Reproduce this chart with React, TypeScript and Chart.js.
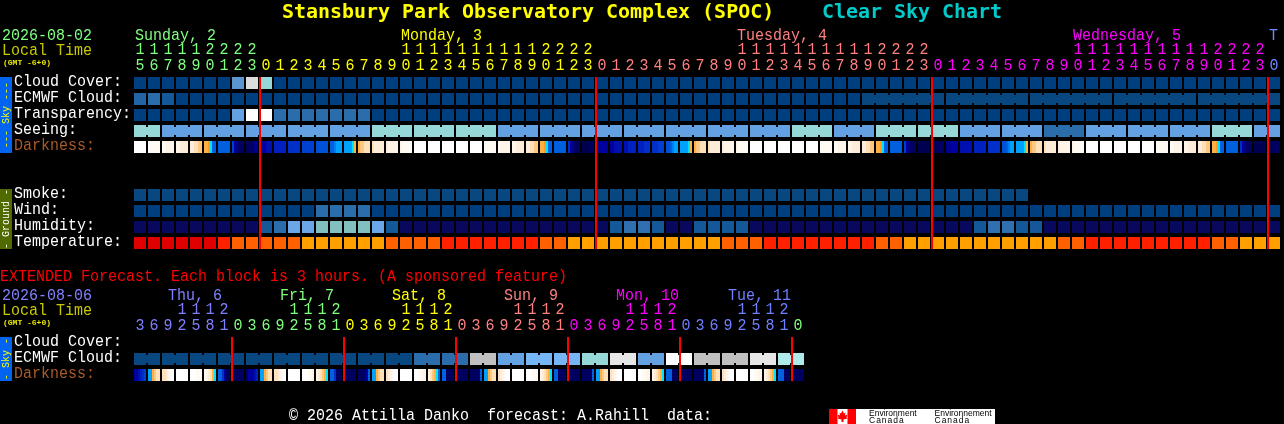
import React, { useEffect, useRef } from "react";
import { Chart, registerables } from "chart.js";

Chart.register(...registerables);

// ---------- hour labels ----------
const hourlyHours = [
  15, 16, 17, 18, 19, 20, 21, 22, 23,
  0, 1, 2, 3, 4, 5, 6, 7, 8, 9, 10, 11, 12, 13, 14, 15, 16, 17, 18, 19, 20, 21, 22, 23,
  0, 1, 2, 3, 4, 5, 6, 7, 8, 9, 10, 11, 12, 13, 14, 15, 16, 17, 18, 19, 20, 21, 22, 23,
  0, 1, 2, 3, 4, 5, 6, 7, 8, 9, 10, 11, 12, 13, 14, 15, 16, 17, 18, 19, 20, 21, 22, 23,
  0,
];
const extendedHours = [
  3, 6, 9, 12, 15, 18, 21,
  0, 3, 6, 9, 12, 15, 18, 21,
  0, 3, 6, 9, 12, 15, 18, 21,
  0, 3, 6, 9, 12, 15, 18, 21,
  0, 3, 6, 9, 12, 15, 18, 21,
  0, 3, 6, 9, 12, 15, 18, 21,
  0,
];
const dayLabels = ["Sunday, 2", "Monday, 3", "Tuesday, 4", "Wednesday, 5", "T"];
const extendedDayLabels = ["Thu, 6", "Fri, 7", "Sat, 8", "Sun, 9", "Mon, 10", "Tue, 11"];
const rowLabelsSky = ["Cloud Cover:", "ECMWF Cloud:", "Transparency:", "Seeing:", "Darkness:"];
const rowLabelsGround = ["Smoke:", "Wind:", "Humidity:", "Temperature:"];
const rowLabelsExtended = ["Cloud Cover:", "ECMWF Cloud:", "Darkness:"];

// ---------- colour levels ----------
const skyPalette = [
  "#003f7f", "#08477f", "#14589a", "#2264a4", "#2b6cab", "#5a96d2", "#63a1e2",
  "#76b6f5", "#96d7d7", "#aeeaea", "#c0c0c0", "#dcdcdc", "#e6e6e6", "#ffffff",
  "#08085e", "#82c0c0", "#6aa6e8", "#3070b0",
];
const tempPalette = ["#e00000", "#ff2000", "#ff6000", "#ffa000"];
const darkPalette: Record<string, string> = {
  W: "#ffffff", w: "#fffaf4", v: "#fff4e8", c: "#ffecd8", d: "#ffe0b8", e: "#ffc880",
  o: "#ffb040", O: "#ff9a20", C: "#00e0ff", A: "#00a0ff", B: "#0080f0", D: "#0060e0",
  E: "#0050d8", F: "#0040d0", G: "#0030c8", H: "#0020c0", I: "#0010b0", J: "#0000a0",
  K: "#000090", L: "#000060", M: "#000050",
};

// ---------- hourly series (level per hour) ----------
const cloudCover = [
  0, 0, 0, 0, 0, 0, 0, 5, 11, 8,
  0, 0, 0, 0, 0, 0, 0, 0, 0, 0,
  0, 0, 0, 0, 0, 0, 0, 0, 0, 0,
  0, 0, 0, 0, 0, 0, 0, 0, 0, 0,
  0, 0, 0, 0, 0, 0, 0, 0, 0, 0,
  0, 0, 0, 0, 0, 0, 0, 0, 0, 0,
  0, 0, 0, 0, 0, 0, 0, 0, 0, 0,
  0, 0, 0, 0, 0, 0, 0, 0, 0, 0,
  0, 0,
];
const ecmwfCloud = [
  3, 4, 2, 0, 0, 0, 0, 0, 0, 0,
  0, 0, 0, 0, 0, 0, 0, 0, 0, 0,
  0, 0, 0, 0, 0, 0, 0, 0, 0, 0,
  0, 0, 0, 0, 0, 0, 0, 0, 0, 0,
  0, 0, 0, 0, 0, 0, 0, 0, 0, 0,
  0, 0, 1, 1, 1, 1, 1, 1, 1, 1,
  1, 1, 1, 1, 1, 1, 1, 1, 1, 1,
  1, 1, 1, 1, 1, 1, 1, 1, 1, 1,
  1, 1,
];
const ecmwfGroups = [
  1, 1, 1, 1, 1, 1, 1, 1, 1, 1, 1, 1, 1, 1, 1, 1, 1, 1, 1, 1, 1, 1, 1, 1, 1, 1,
  1, 1, 1, 1, 1, 1, 1, 1, 1, 1, 1, 1, 1, 1, 1, 1, 1, 1, 1, 1, 1, 1, 1, 1, 1, 1,
  6, 6, 6, 6, 6,
];
const transparency = [
  0, 0, 0, 0, 0, 0, 0, 6, 13, 13,
  4, 4, 4, 4, 4, 4, 4, 0, 0, 0,
  0, 0, 0, 0, 0, 0, 0, 0, 0, 0,
  0, 0, 0, 0, 0, 0, 0, 0, 0, 0,
  0, 0, 0, 0, 0, 0, 0, 0, 0, 0,
  0, 0, 0, 0, 0, 0, 0, 0, 0, 0,
  0, 0, 0, 0, 0, 0, 0, 0, 0, 0,
  0, 0, 0, 0, 0, 0, 0, 0, 0, 0,
  0, 0,
];
const seeing = [
  8, 8, 6, 6, 6, 6, 6, 6, 6, 6,
  6, 6, 6, 6, 6, 6, 6, 8, 8, 8,
  8, 8, 8, 8, 8, 8, 6, 6, 6, 6,
  6, 6, 6, 6, 6, 6, 6, 6, 6, 6,
  6, 6, 6, 6, 6, 6, 6, 8, 8, 8,
  6, 6, 6, 8, 8, 8, 8, 8, 8, 6,
  6, 6, 6, 6, 6, 4, 4, 4, 6, 6,
  6, 6, 6, 6, 6, 6, 6, 8, 8, 8,
  6, 6,
];
const seeingGroups = [2, 3, 3, 3, 3, 3, 3, 3, 3, 3, 3, 3, 3, 3, 3, 3, 3, 3, 3, 3, 3, 3, 3, 3, 3, 3, 3, 2];
const darknessHourly = [
  "WWWWWW", "Wwwwww", "wwvvvv", "vvcccc", "ccddee", "ooOCDD", "DDDDDD", "FJKLLL", "LLLLKK", "JJJIII",
  "HHHHHH", "GGGGGG", "FFFFFF", "EEEEEE", "DDBAAA", "AAAACo", "oeeddd", "dccccc", "cvvvvv", "vwwwww",
  "WWWWWW", "WWWWWW", "WWWWWW", "WWWWWW", "WWWWWW", "wwwwww", "wvvvvv", "vvcccc", "ccddee", "ooOCDD",
  "DDDDDD", "GJKLLL", "MMMMLL", "KKJJJJ", "JJIIII", "IIHHHH", "HHHGGG", "GGGFFF", "EEDBAA", "AAAACo",
  "oeeddd", "dccccc", "cvvvvv", "vwwwww", "WWWWWW", "WWWWWW", "WWWWWW", "WWWWWW", "WWWWWW", "wwwwww",
  "wwvvvv", "vvcccc", "ccddee", "ooOCDD", "DDDDDD", "FJKLLL", "MMMMMM", "MMLLLL", "KKKJJJ", "IIIIII",
  "HHHHHH", "GGGGGG", "EEDBAA", "AAAACo", "oeeddd", "dccccc", "cvvvvv", "vwwwww", "WWWWWW", "WWWWWW",
  "WWWWWW", "WWWWWW", "WWWWWW", "wwwwww", "wwvvvv", "vvcccc", "ccddee", "ooOCDD", "DDDDDD", "GJKLLL",
  "MMMMMM", "MMLLLL",
];
const smoke = [
  1, 1, 1, 1, 1, 1, 1, 1, 1, 1,
  1, 1, 1, 1, 1, 1, 1, 1, 1, 1,
  1, 1, 1, 1, 1, 1, 1, 1, 1, 1,
  1, 1, 1, 1, 1, 1, 1, 1, 1, 1,
  1, 1, 1, 1, 1, 1, 1, 1, 1, 1,
  1, 1, 1, 1, 1, 1, 1, 1, 1, 1,
  1, 1, 1, 1,
];
const wind = [
  0, 0, 0, 0, 0, 0, 0, 0, 0, 0,
  0, 0, 0, 4, 4, 4, 4, 0, 0, 0,
  0, 0, 0, 0, 0, 0, 0, 0, 0, 0,
  0, 0, 0, 0, 0, 0, 0, 0, 0, 0,
  0, 0, 0, 0, 0, 0, 0, 0, 0, 0,
  0, 0, 0, 0, 0, 0, 0, 0, 0, 0,
  0, 0, 0, 0, 0, 0, 0, 0, 0, 0,
  0, 0, 0, 0, 0, 0, 0, 0, 0, 0,
  0, 0,
];
const humidity = [
  14, 14, 14, 14, 14, 14, 14, 14, 14, 2,
  4, 16, 16, 15, 15, 15, 15, 16, 2, 14,
  14, 14, 14, 14, 14, 14, 14, 14, 14, 14,
  14, 14, 14, 14, 2, 17, 17, 2, 14, 14,
  2, 2, 2, 2, 14, 14, 14, 14, 14, 14,
  14, 14, 14, 14, 14, 14, 14, 14, 14, 14,
  2, 17, 17, 2, 2, 14, 14, 14, 14, 14,
  14, 14, 14, 14, 14, 14, 14, 14, 14, 14,
  14, 14,
];
const temperature = [
  0, 0, 0, 0, 0, 0, 1, 2, 2, 2,
  2, 2, 3, 3, 3, 3, 3, 3, 2, 2,
  2, 2, 1, 1, 1, 1, 1, 1, 1, 2,
  2, 3, 3, 3, 3, 3, 3, 3, 3, 3,
  3, 3, 2, 2, 2, 1, 1, 1, 1, 1,
  1, 1, 1, 2, 2, 3, 3, 3, 3, 3,
  3, 3, 3, 3, 3, 3, 2, 2, 1, 1,
  1, 1, 1, 1, 1, 1, 1, 2, 2, 3,
  3, 3,
];

// ---------- extended series (level per 3-hour block) ----------
const extendedEcmwf = [
  1, 1, 1, 1, 1, 1, 1, 1, 1, 1,
  1, 1, 1, 1, 1, 1, 1, 1, 1, 1,
  4, 4, 4, 4, 10, 10, 6, 6, 7, 7,
  7, 7, 8, 8, 12, 12, 6, 6, 13, 13,
  10, 10, 10, 10, 12, 12, 9, 9,
];
const extendedGroups = [2, 2, 2, 2, 2, 2, 2, 2, 2, 2, 2, 2, 2, 2, 2, 2, 2, 2, 2, 2, 2, 2, 2, 2];
const extendedDarkness = [
  "JJIHGF", "AAoedd", "ddcvwW", "WWWWWW", "WWWwww", "wvcdoC", "DDGJLL", "LLLLLL",
  "LJJJIH", "AAoedd", "ddcvwW", "WWWWWW", "WWWwwv", "vcdeoC", "DDGLLL", "LLLLLL",
  "LLLLJD", "AAoedd", "dcvwWW", "WWWWWW", "WWwwvv", "vdeoCD", "DDLLLL", "LLLLLL",
  "LLLLLD", "AAoedd", "dcvwWW", "WWWWWW", "WWWwww", "vcdeoC", "DDLLLL", "LLLLLL",
  "LLLLLD", "AAoedd", "dcvwWW", "WWWWWW", "WWwwvv", "vcdeoC", "DDDLLL", "LLLLLL",
  "LLLLLD", "AAoedd", "dcvwWW", "WWWWWW", "WWwwvv", "vcdeoC", "DDDLLL", "LLLLLL",
];
const midnightColumns = [9, 33, 57, 81];
const extendedMidnightColumns = [7, 15, 23, 31, 39, 47];

// ---------- layout helpers (scale units: 1 column, 1 row) ----------
const PX_X = 14;
const PX_Y = 16;
const CELL_H = 12 / PX_Y;
const ROW = { cloud: 0, ecmwf: 1, transp: 2, seeing: 3, dark: 4, smoke: 7, wind: 8, humid: 9, temp: 10, xCloud: 16.25, xEcmwf: 17.25, xDark: 18.25 };
const FONT = '"Liberation Mono", "DejaVu Sans Mono", monospace';
const TITLE_FONT = '"DejaVu Sans Mono", monospace';

const base = { grouped: false, inflateAmount: 0, borderWidth: 0 };

const cells = (label: string, values: number[], row: number, palette: string[]) => ({
  ...base,
  label,
  barThickness: 12,
  data: values.map((_, i) => ({ x: i, y: [row, row + CELL_H] })),
  backgroundColor: values.map((v) => palette[v]),
});

const bridges = (label: string, values: number[], groups: number[], row: number, palette: string[]) => {
  const data: any[] = [];
  const colors: string[] = [];
  let col = 0;
  groups.forEach((size) => {
    for (let k = 0; k < size - 1; k++) {
      data.push({ x: col + k + 0.5, y: [row + 2 / PX_Y, row + 10 / PX_Y] });
      colors.push(palette[values[col + k]]);
    }
    col += size;
  });
  return { ...base, label, barThickness: 2, data, backgroundColor: colors };
};

const slices = (label: string, columns: string[], row: number) => {
  const data: any[] = [];
  const colors: string[] = [];
  columns.forEach((s, i) => {
    s.split("").forEach((ch, k) => {
      data.push({ x: i + (k - 2.5) * (2 / PX_X), y: [row, row + CELL_H] });
      colors.push(darkPalette[ch]);
    });
  });
  return { ...base, label, barThickness: 2, data, backgroundColor: colors };
};

const redLines = (label: string, columns: number[], from: number, to: number) => ({
  ...base,
  label,
  barThickness: 2,
  data: columns.map((c) => ({ x: c - 6 / PX_X, y: [from, to] })),
  backgroundColor: "#ff0000",
});

// Text is stretched a little in height so the thin mono face reaches the reference's glyph height.
const put = (ctx: any, text: string, x: number, y: number, color: string, font = `15px ${FONT}`, stretch = 1.1) => {
  ctx.save();
  ctx.translate(x, y);
  ctx.scale(1, stretch);
  ctx.font = font;
  ctx.fillStyle = color;
  ctx.fillText(text, 0, 0);
  ctx.restore();
};

const rotated = (ctx: any, text: string, x: number, y: number, color: string) => {
  ctx.save();
  ctx.translate(x, y);
  ctx.rotate(-Math.PI / 2);
  ctx.font = `10px ${FONT}`;
  ctx.fillStyle = color;
  ctx.textAlign = "center";
  ctx.textBaseline = "middle";
  ctx.fillText(text, 0, 0);
  ctx.restore();
};

const hourColor = (c: number) => (c < 9 ? "#80ff80" : c < 33 ? "#ffff00" : c < 57 ? "#ff8080" : c < 81 ? "#ff00ff" : "#6a8cff");
const extColor = (c: number) => (c < 7 ? "#8080ff" : c < 15 ? "#80ff80" : c < 23 ? "#ffff00" : c < 31 ? "#ff8080" : c < 39 ? "#ff00ff" : c < 47 ? "#7080ff" : "#80ff80");

const textPlugin = {
  id: "cscText",
  beforeDatasetsDraw(chart: any) {
    const { ctx } = chart;
    const y = chart.scales.y;
    ctx.save();
    ctx.fillStyle = "#0064f0";
    ctx.fillRect(0, y.getPixelForValue(ROW.cloud), 12, 76);
    ctx.fillRect(0, y.getPixelForValue(ROW.xCloud), 12, 44);
    ctx.fillStyle = "#506a00";
    ctx.fillRect(0, y.getPixelForValue(ROW.smoke), 12, 60);
    ctx.restore();
  },
  afterDatasetsDraw(chart: any) {
    const { ctx } = chart;
    const xs = chart.scales.x;
    const ys = chart.scales.y;
    ctx.save();
    ctx.textBaseline = "alphabetic";
    ctx.textAlign = "left";

    // title
    const titleFont = `bold 19.95px ${TITLE_FONT}`;
    put(ctx, "Stansbury Park Observatory Complex (SPOC)", 282, 18, "#ffff00", titleFont, 1);
    put(ctx, "Clear Sky Chart", 822, 18, "#00cccc", titleFont, 1);

    // hourly header
    put(ctx, "2026-08-02", 2, 40, "#80ff80");
    put(ctx, "Local Time", 2, 55, "#c8c800");
    put(ctx, "(GMT -6+0)", 3, 65, "#e8e800", `bold 8px ${FONT}`, 1);
    const dayCols = [0, 19, 43, 67, 81];
    const dayColors = ["#80ff80", "#ffff00", "#ff8080", "#ff00ff", "#6a8cff"];
    dayLabels.forEach((d, i) => put(ctx, d, xs.getPixelForValue(dayCols[i] - 6 / PX_X) + 1, 40, dayColors[i]));
    ctx.textAlign = "center";
    hourlyHours.forEach((h, c) => {
      const x = xs.getPixelForValue(c);
      if (h >= 10) put(ctx, String(Math.floor(h / 10)), x, 54, hourColor(c));
      put(ctx, String(h % 10), x, 70, hourColor(c));
    });
    ctx.textAlign = "left";

    // row labels
    const skyRows = [ROW.cloud, ROW.ecmwf, ROW.transp, ROW.seeing, ROW.dark];
    rowLabelsSky.forEach((t, i) => put(ctx, t, 14, ys.getPixelForValue(skyRows[i]) + 9, i === 4 ? "#a85a2a" : "#ffffff"));
    const groundRows = [ROW.smoke, ROW.wind, ROW.humid, ROW.temp];
    rowLabelsGround.forEach((t, i) => put(ctx, t, 14, ys.getPixelForValue(groundRows[i]) + 9, "#ffffff"));
    const extRows = [ROW.xCloud, ROW.xEcmwf, ROW.xDark];
    rowLabelsExtended.forEach((t, i) => put(ctx, t, 14, ys.getPixelForValue(extRows[i]) + 9, i === 2 ? "#a85a2a" : "#ffffff"));

    rotated(ctx, "--- Sky ---", 6, 115, "#ffff00");
    rotated(ctx, "- Ground -", 6, 219, "#ffffff");
    rotated(ctx, "- Sky -", 6, 359, "#ffff00");

    // extended
    put(ctx, "EXTENDED Forecast. Each block is 3 hours. (A sponsored feature)", 0, 281, "#ff0000");
    put(ctx, "2026-08-06", 2, 300, "#8080ff");
    put(ctx, "Local Time", 2, 315, "#c8c800");
    put(ctx, "(GMT -6+0)", 3, 325, "#e8e800", `bold 8px ${FONT}`, 1);
    const extCols = [2, 10, 18, 26, 34, 42];
    const extDayColors = ["#8080ff", "#80ff80", "#ffff00", "#ff8080", "#ff00ff", "#7080ff"];
    extendedDayLabels.forEach((d, i) => put(ctx, d, xs.getPixelForValue(extCols[i]), 300, extDayColors[i]));
    ctx.textAlign = "center";
    extendedHours.forEach((h, c) => {
      const x = xs.getPixelForValue(c);
      if (h >= 10) put(ctx, String(Math.floor(h / 10)), x, 314, extColor(c));
      put(ctx, String(h % 10), x, 330, extColor(c));
    });
    ctx.textAlign = "left";

    // footer
    put(ctx, "\u00a9 2026 Attilla Danko  forecast: A.Rahill  data:", 289, 420, "#ffffff");
    ctx.fillStyle = "#ffffff";
    ctx.fillRect(829, 409, 166, 15);
    ctx.fillStyle = "#ff0000";
    ctx.fillRect(829, 409, 8.5, 15);
    ctx.fillRect(847.5, 409, 8.5, 15);
    const leaf = [[0, -6], [1.5, -3], [3, -4], [2.5, -1], [5, -2], [4, 1], [5, 2], [1, 3], [1, 5.5], [-1, 5.5], [-1, 3], [-5, 2], [-4, 1], [-5, -2], [-2.5, -1], [-3, -4], [-1.5, -3]];
    ctx.beginPath();
    leaf.forEach(([lx, ly], i) => (i ? ctx.lineTo(842.5 + lx, 416.5 + ly) : ctx.moveTo(842.5 + lx, 416.5 + ly)));
    ctx.closePath();
    ctx.fill();
    const logoFont = `8.5px "Liberation Sans", sans-serif`;
    put(ctx, "Environment", 869, 416, "#000000", logoFont, 1);
    put(ctx, "Environnement", 934.5, 416, "#000000", logoFont, 1);
    ctx.letterSpacing = "1px";
    put(ctx, "Canada", 869, 423, "#000000", logoFont, 1);
    put(ctx, "Canada", 934.5, 423, "#000000", logoFont, 1);
    ctx.letterSpacing = "0px";
    ctx.restore();
  },
};

export default function App() {
  const ref = useRef<HTMLCanvasElement>(null);
  useEffect(() => {
    document.body.style.margin = "0";
    document.body.style.background = "#000";
    const chart = new Chart(ref.current as HTMLCanvasElement, {
      type: "bar",
      data: {
        datasets: [
          redLines("Midnight", midnightColumns, ROW.cloud, ROW.temp + CELL_H),
          redLines("Extended midnight", extendedMidnightColumns, ROW.xCloud, ROW.xDark + CELL_H),
          bridges("Seeing groups", seeing, seeingGroups, ROW.seeing, skyPalette),
          bridges("ECMWF groups", ecmwfCloud, ecmwfGroups, ROW.ecmwf, skyPalette),
          bridges("Extended ECMWF groups", extendedEcmwf, extendedGroups, ROW.xEcmwf, skyPalette),
          cells("Cloud Cover", cloudCover, ROW.cloud, skyPalette),
          cells("ECMWF Cloud", ecmwfCloud, ROW.ecmwf, skyPalette),
          cells("Transparency", transparency, ROW.transp, skyPalette),
          cells("Seeing", seeing, ROW.seeing, skyPalette),
          slices("Darkness", darknessHourly, ROW.dark),
          cells("Smoke", smoke, ROW.smoke, skyPalette),
          cells("Wind", wind, ROW.wind, skyPalette),
          cells("Humidity", humidity, ROW.humid, skyPalette),
          cells("Temperature", temperature, ROW.temp, tempPalette),
          cells("Extended ECMWF Cloud", extendedEcmwf, ROW.xEcmwf, skyPalette),
          slices("Extended Darkness", extendedDarkness, ROW.xDark),
        ] as any,
      },
      options: {
        animation: false,
        responsive: false,
        devicePixelRatio: 1,
        layout: { padding: 0 },
        plugins: { legend: { display: false }, tooltip: { enabled: false }, title: { display: false } },
        scales: {
          x: { type: "linear", display: false, offset: false, min: -140 / PX_X, max: (1284 - 140) / PX_X },
          y: { type: "linear", display: false, reverse: true, min: -77 / PX_Y, max: (424 - 77) / PX_Y },
        },
      },
      plugins: [textPlugin],
    } as any);
    return () => chart.destroy();
  }, []);
  return <canvas ref={ref} width={1284} height={424} style={{ display: "block", background: "#000" }} />;
}
